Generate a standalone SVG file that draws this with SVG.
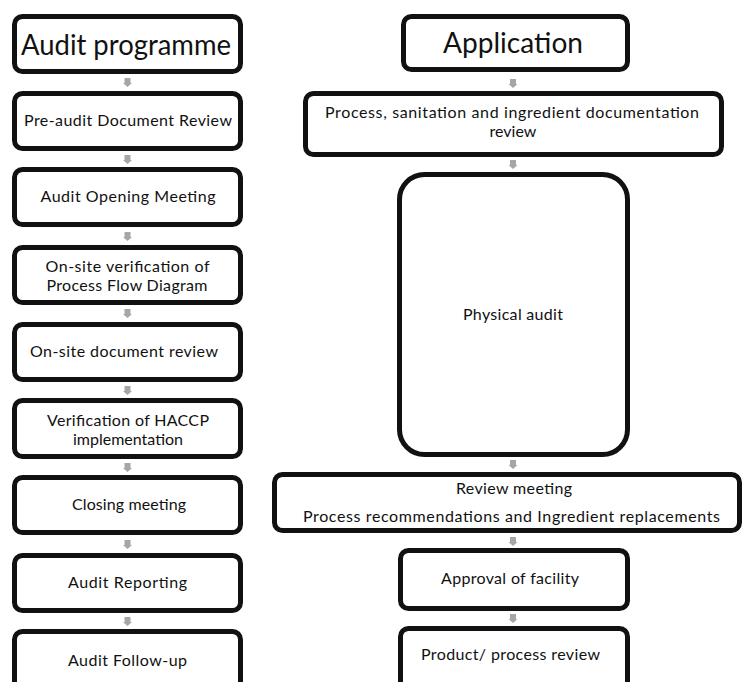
<svg xmlns="http://www.w3.org/2000/svg" width="744" height="682" viewBox="0 0 744 682">
<style>
.box{fill:#fff;stroke:#111;stroke-width:5}
.t{font-family:Lato,"Open Sans","Liberation Sans",sans-serif;font-size:16px;fill:#111;text-anchor:middle}
.h{font-family:Lato,"Open Sans","Liberation Sans",sans-serif;font-size:29px;fill:#111;text-anchor:middle}
.arr{fill:#a6a6a6}
</style>
<defs>
<path id="ar" class="arr" d="M-3,0 H3 V5 H4.5 L0,9 L-4.5,5 H-3 Z"/>
</defs>
<rect width="744" height="682" fill="#fff"/>
<g id="connectors">
<use href="#ar" x="127.5" y="78"/>
<use href="#ar" x="127.5" y="155"/>
<use href="#ar" x="127.5" y="232"/>
<use href="#ar" x="127.5" y="309"/>
<use href="#ar" x="127.5" y="386"/>
<use href="#ar" x="127.5" y="463"/>
<use href="#ar" x="127.5" y="540"/>
<use href="#ar" x="127.5" y="617"/>
<use href="#ar" x="513" y="79"/>
<use href="#ar" x="513" y="160"/>
<use href="#ar" x="513" y="460"/>
<use href="#ar" x="513" y="537"/>
<use href="#ar" x="513" y="614"/>
</g>
<g id="audit-programme">
<rect class="box" x="14.5" y="16.5" width="226" height="55" rx="8"/>
<text class="h" x="126" y="55" textLength="210" lengthAdjust="spacingAndGlyphs">Audit programme</text>
</g>
<g id="pre-audit">
<rect class="box" x="14.5" y="93.5" width="226" height="55" rx="8"/>
<text class="t" x="128" y="126" textLength="208" lengthAdjust="spacing">Pre-audit Document Review</text>
</g>
<g id="opening">
<rect class="box" x="14.5" y="169.5" width="226" height="55" rx="8"/>
<text class="t" x="128" y="202" textLength="175" lengthAdjust="spacing">Audit Opening Meeting</text>
</g>
<g id="onsite-verification">
<rect class="box" x="14.5" y="247.5" width="226" height="55" rx="8"/>
<text class="t" x="127.5" y="272" textLength="164" lengthAdjust="spacing">On-site verification of</text>
<text class="t" x="127" y="291" textLength="161" lengthAdjust="spacing">Process Flow Diagram</text>
</g>
<g id="onsite-doc">
<rect class="box" x="14.5" y="324.5" width="226" height="55" rx="8"/>
<text class="t" x="124" y="357" textLength="188" lengthAdjust="spacing">On-site document review</text>
</g>
<g id="haccp">
<rect class="box" x="14.5" y="400.5" width="226" height="56" rx="8"/>
<text class="t" x="128" y="426" textLength="162" lengthAdjust="spacing">Verification of HACCP</text>
<text class="t" x="128" y="445">implementation</text>
</g>
<g id="closing">
<rect class="box" x="14.5" y="477.5" width="226" height="55" rx="8"/>
<text class="t" x="129" y="510" textLength="114" lengthAdjust="spacing">Closing meeting</text>
</g>
<g id="reporting">
<rect class="box" x="14.5" y="555.5" width="226" height="55" rx="8"/>
<text class="t" x="127.5" y="588" textLength="119" lengthAdjust="spacing">Audit Reporting</text>
</g>
<g id="follow-up">
<rect class="box" x="14.5" y="631.5" width="226" height="70" rx="8"/>
<text class="t" x="127.5" y="666" textLength="119" lengthAdjust="spacing">Audit Follow-up</text>
</g>
<g id="application">
<rect class="box" x="403.5" y="16.5" width="224" height="53" rx="8"/>
<text class="h" x="513" y="53" textLength="140" lengthAdjust="spacingAndGlyphs">Application</text>
</g>
<g id="doc-review">
<rect class="box" x="305.5" y="93.5" width="416" height="61" rx="8"/>
<text class="t" x="512" y="118" textLength="374" lengthAdjust="spacing">Process, sanitation and ingredient documentation</text>
<text class="t" x="513" y="137">review</text>
</g>
<g id="physical-audit">
<rect class="box" x="399.5" y="174.5" width="228" height="280" rx="25"/>
<text class="t" x="513" y="320" textLength="100" lengthAdjust="spacing">Physical audit</text>
</g>
<g id="review-meeting">
<rect class="box" x="274.5" y="474.5" width="465" height="56" rx="8"/>
<text class="t" x="514" y="494" textLength="116" lengthAdjust="spacing">Review meeting</text>
<text class="t" x="511.5" y="522" textLength="417" lengthAdjust="spacing">Process recommendations and Ingredient replacements</text>
</g>
<g id="approval">
<rect class="box" x="400.5" y="550.5" width="227" height="58" rx="8"/>
<text class="t" x="510" y="584" textLength="138" lengthAdjust="spacing">Approval of facility</text>
</g>
<g id="product-review">
<rect class="box" x="400.5" y="628.5" width="227" height="70" rx="8"/>
<text class="t" x="510.5" y="660" textLength="179" lengthAdjust="spacing">Product/ process review</text>
</g>
</svg>
